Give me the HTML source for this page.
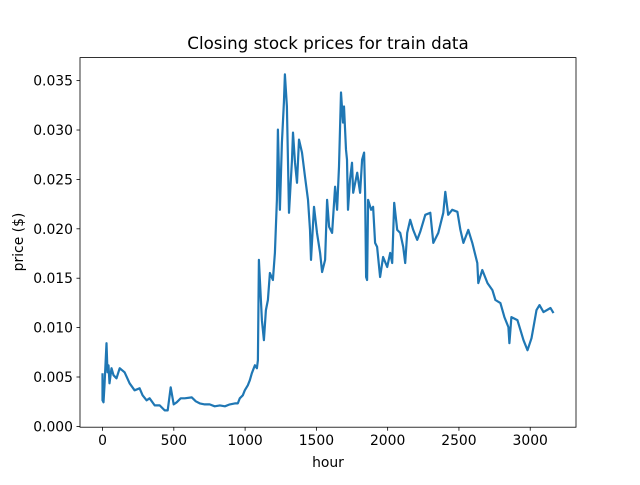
<!DOCTYPE html>
<html><head><meta charset="utf-8"><style>
body{margin:0;background:#fff}
svg text{font-family:"DejaVu Sans","Liberation Sans",sans-serif;fill:#000}
</style></head><body>
<svg id="chart" width="640" height="480" viewBox="0 0 640 480" xmlns="http://www.w3.org/2000/svg">
<rect width="640" height="480" fill="#fff"/>
<text x="328" y="49" font-size="16.7" text-anchor="middle">Closing stock prices for train data</text>
<text x="328" y="467" font-size="13.9" text-anchor="middle">hour</text>
<text transform="translate(23,242) rotate(-90)" font-size="13.9" text-anchor="middle">price ($)</text>
<g id="xticks"></g>
<g id="yticks"></g>
<path id="line" fill="none" stroke="#1f77b4" stroke-width="2.2" stroke-linejoin="round"/>
<rect x="80" y="57.6" width="496" height="369.6" fill="none" stroke="#000" stroke-width="0.8"/>
</svg>
<script>
const hours=[0,0,7,14,28,35,42,49,63,77,98,120,155,190,225,260,281,309,330,366,401,436,457,478,499,520,548,576,626,654,682,717,752,787,823,858,893,928,949,963,984,998,1019,1033,1047,1069,1083,1090,1097,1111,1118,1132,1146,1160,1174,1195,1209,1223,1230,1244,1258,1272,1279,1293,1308,1329,1336,1350,1364,1378,1399,1420,1441,1455,1462,1483,1504,1526,1540,1561,1575,1589,1610,1631,1645,1659,1673,1687,1694,1708,1715,1722,1736,1750,1758,1786,1807,1821,1835,1842,1849,1856,1863,1884,1898,1912,1926,1947,1968,1997,2018,2032,2046,2067,2088,2109,2123,2137,2158,2179,2207,2228,2264,2299,2320,2355,2390,2404,2425,2453,2489,2510,2531,2566,2594,2629,2636,2664,2700,2735,2756,2791,2819,2847,2854,2868,2910,2932,2953,2981,3009,3023,3044,3065,3093,3142,3163];
const prices=[0.00538,0.00264,0.00244,0.00416,0.00842,0.00548,0.00619,0.00436,0.00589,0.00518,0.00487,0.00589,0.00548,0.00436,0.00365,0.00386,0.00315,0.00264,0.00284,0.00213,0.00213,0.00162,0.00162,0.00396,0.00223,0.00244,0.00284,0.00284,0.00294,0.00254,0.00233,0.00223,0.00223,0.00203,0.00213,0.00203,0.00223,0.00233,0.00233,0.00284,0.00315,0.00365,0.00416,0.00467,0.00538,0.00619,0.00589,0.00670,0.01685,0.01279,0.01076,0.00873,0.01177,0.01279,0.01553,0.01482,0.01756,0.02294,0.03004,0.02192,0.02872,0.03278,0.03563,0.03238,0.02162,0.02700,0.02974,0.02669,0.02466,0.02903,0.02771,0.02527,0.02294,0.01989,0.01685,0.02223,0.01959,0.01756,0.01563,0.01685,0.02294,0.02020,0.01959,0.02426,0.02192,0.02629,0.03380,0.03075,0.03238,0.02801,0.02700,0.02192,0.02497,0.02669,0.02365,0.02568,0.02365,0.02700,0.02771,0.02365,0.01512,0.01482,0.02294,0.02192,0.02223,0.01857,0.01817,0.01512,0.01715,0.01614,0.01756,0.01654,0.02263,0.01989,0.01959,0.01817,0.01654,0.01959,0.02091,0.01989,0.01888,0.01969,0.02142,0.02162,0.01857,0.01959,0.02162,0.02375,0.02142,0.02192,0.02172,0.01989,0.01857,0.01989,0.01857,0.01654,0.01451,0.01583,0.01451,0.01380,0.01279,0.01248,0.01106,0.01005,0.00842,0.01106,0.01076,0.00974,0.00873,0.00771,0.00893,0.01005,0.01177,0.01228,0.01157,0.01198,0.01147];
const xTicks=[0,500,1000,1500,2000,2500,3000];
const yTicks=[0,0.005,0.010,0.015,0.020,0.025,0.030,0.035];
const yTickLabels=["0.000","0.005","0.010","0.015","0.020","0.025","0.030","0.035"];
const X0=80,X1=576,Y0=427.2,Y1=57.6;
const hMin=Math.min(...hours),hMax=Math.max(...hours),pMin=Math.min(...prices),pMax=Math.max(...prices);
const xmin=hMin-(hMax-hMin)*0.05,xmax=hMax+(hMax-hMin)*0.05;
const ymin=pMin-(pMax-pMin)*0.05,ymax=pMax+(pMax-pMin)*0.05;
const sx=v=>X0+(v-xmin)/(xmax-xmin)*(X1-X0);
const sy=v=>Y0-(v-ymin)/(ymax-ymin)*(Y0-Y1);
const NS="http://www.w3.org/2000/svg";
let d="";
hours.forEach((h,i)=>{d+=(i?"L":"M")+sx(h).toFixed(1)+","+sy(prices[i]).toFixed(1);});
document.getElementById("line").setAttribute("d",d);
const xg=document.getElementById("xticks");
xTicks.forEach(t=>{
  const x=sx(t);
  const l=document.createElementNS(NS,"line");
  
  
  l.setAttribute("x1",x);l.setAttribute("x2",x);l.setAttribute("y1",Y0);l.setAttribute("y2",Y0+3.5);l.setAttribute("stroke","#000");l.setAttribute("stroke-width","0.8");
  xg.appendChild(l);
  const tx=document.createElementNS(NS,"text");
  
  
  tx.setAttribute("x",x);tx.setAttribute("y",Y0+18);tx.setAttribute("font-size","13.9");tx.setAttribute("text-anchor","middle");
  tx.textContent=t;xg.appendChild(tx);
});
const yg=document.getElementById("yticks");
yTicks.forEach((t,i)=>{
  const y=sy(t);
  const l=document.createElementNS(NS,"line");
  
  
  l.setAttribute("x1",X0-3.5);l.setAttribute("x2",X0);l.setAttribute("y1",y);l.setAttribute("y2",y);l.setAttribute("stroke","#000");l.setAttribute("stroke-width","0.8");
  yg.appendChild(l);
  const tx=document.createElementNS(NS,"text");
  
  
  tx.setAttribute("x",X0-7);tx.setAttribute("y",y+5);tx.setAttribute("font-size","13.9");tx.setAttribute("text-anchor","end");
  tx.textContent=yTickLabels[i];yg.appendChild(tx);
});
</script>
</body></html>
